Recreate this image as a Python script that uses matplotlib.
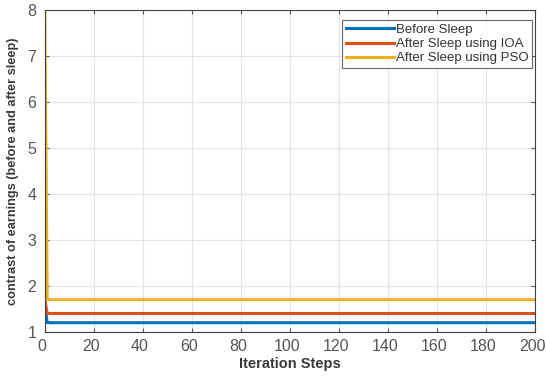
import numpy as np
import matplotlib.pyplot as plt
import matplotlib.transforms as mtransforms

plt.rcParams['font.family'] = ['Liberation Sans', 'DejaVu Sans']

# value at step 0, then steady value from step 1 to 200
steps = list(range(201))
before = [1.6] + [1.2] * 200
after_ioa = [1.7] + [1.4] * 200
after_pso = [8.0] + [1.7] * 200

labels = ['Before Sleep', 'After Sleep using IOA', 'After Sleep using PSO']
colors = ['#0072BD', '#D95319', '#EDB120']

fig = plt.figure(figsize=(5.46, 3.78), dpi=100)
ax = fig.add_axes([0.082, 0.122, 0.898, 0.852])

for ys, lab, col in zip([before, after_ioa, after_pso], labels, colors):
    ax.plot(steps, ys, color=col, lw=2.2, label=lab)

ax.set_xlim(0, 200)
ax.set_ylim(1, 8)
ax.set_xticks(range(0, 201, 20))
ax.set_yticks(range(1, 9))
ax.grid(True, color='#e3e3e3', lw=0.8)
ax.tick_params(direction='in', colors='#555555', labelsize=11.5, length=3,
               top=True, right=True)
ax.tick_params(axis='x', pad=5)
ax.tick_params(axis='y', pad=6)
# nudge x tick labels a little to the left so "200" stays inside the figure
shift = mtransforms.ScaledTranslation(-3 / 100, 0, fig.dpi_scale_trans)
for lbl in ax.get_xticklabels():
    lbl.set_transform(lbl.get_transform() + shift)
for sp in ax.spines.values():
    sp.set_color('#404040')
    sp.set_linewidth(0.8)

ax.set_xlabel('Iteration Steps', fontsize=10.5, fontweight='bold',
              color='#3a3a3a', labelpad=2)
ax.set_ylabel('contrast of earnings (before and after sleep)', fontsize=9.2,
              fontweight='bold', color='#3a3a3a', labelpad=6)

leg = ax.legend(loc='upper right', frameon=True, fancybox=False,
                prop={'size': 9.5},
                edgecolor='#404040', handlelength=3.6, borderpad=0.3,
                labelspacing=0.15, handletextpad=0.15, borderaxespad=0,
                bbox_to_anchor=(0.994, 0.969))
leg.get_frame().set_linewidth(0.8)
for t in leg.get_texts():
    t.set_color('#333333')

fig.savefig('out.png', dpi=100)
